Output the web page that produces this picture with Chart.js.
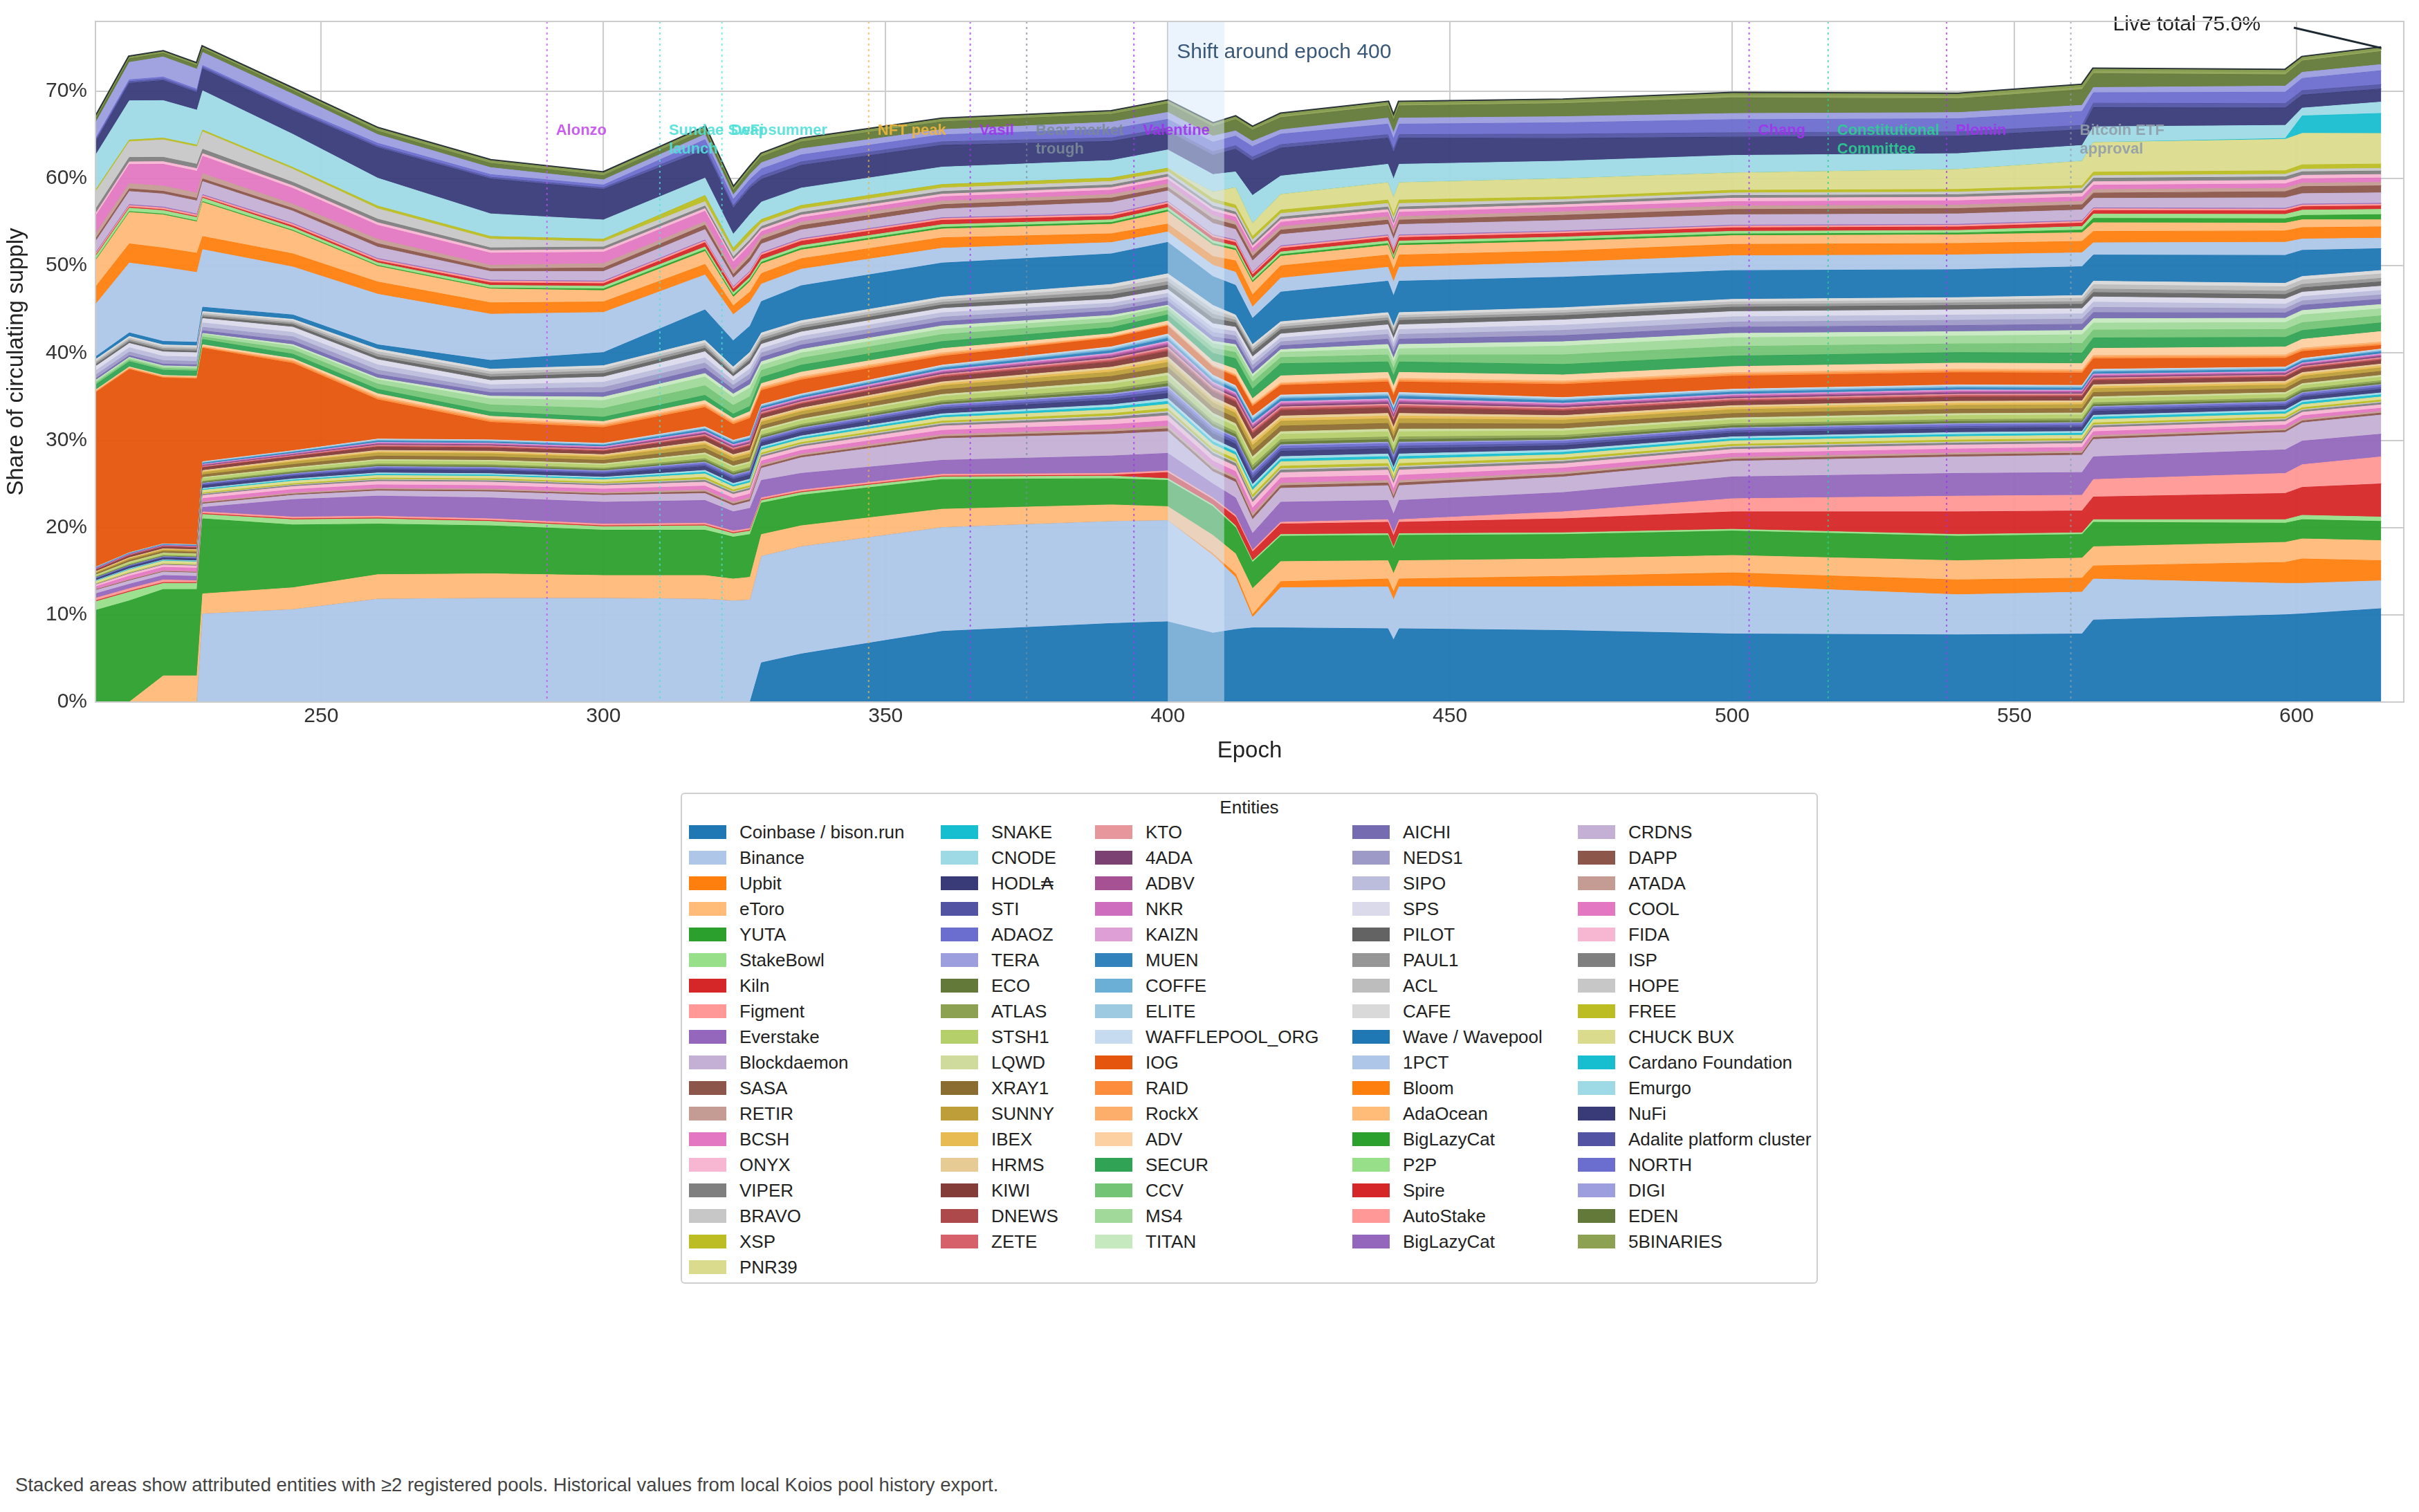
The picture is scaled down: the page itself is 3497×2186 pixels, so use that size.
<!DOCTYPE html>
<html>
<head>
<meta charset="utf-8">
<script src="https://cdn.jsdelivr.net/npm/chart.js@4.4.1/dist/chart.umd.min.js"></script>
<style>
  body { margin: 0; background: #fff; font-family: "Liberation Sans", Arial, sans-serif; }
  #wrap { position: relative; width: 3497px; height: 2186px; }
  #box { position: absolute; left: 0; top: 0; width: 3497px; height: 1110px; }
  #legend { position: absolute; left: 984px; top: 1146px; width: 1644px; height: 710px;
            border: 2px solid #cfcfcf; border-radius: 6px; box-sizing: border-box; }
  #legend .ttl { position: absolute; top: 4px; width: 100%; text-align: center; font-size: 26px; color: #222; }
  #legend .it { position: absolute; font-size: 26px; color: #222; white-space: nowrap; line-height: 30px; }
  #legend .sw { display: inline-block; width: 54px; height: 20px; vertical-align: middle; margin-right: 19px; margin-top: -4px; }
  #note { position: absolute; left: 22px; top: 2131px; font-size: 27.5px; color: #444; }
</style>
</head>
<body>
<div id="wrap">
  <div id="box"><canvas id="chart"></canvas></div>
  <div id="legend"><div class="ttl">Entities</div></div>
  <div id="note">Stacked areas show attributed entities with ≥2 registered pools. Historical values from local Koios pool history export.</div>
</div>
<script>
// epochs (share of circulating supply, %)
const epochs = [210,216,222,228,229,245,260,280,300,318,323,326, 328,335,360,390,400,408,412,415,420,439,440,441, 470,500,540,562,564,598,601,615];

const coinbase = [0,0,0,0,0,0,0,0,0,0,0,0, 4.5,5.5,8.1,9.0,9.2,7.9,8.3,8.5,8.5,8.4,7.1,8.4, 8.2,7.8,7.7,7.8,9.4,10.0,10.1,10.7];
const binance = [0,0,0,0,10.1,10.6,11.8,11.9,11.9,11.8,11.6,11.7, 12.2,12.3,11.9,11.7,11.6,8.9,6.0,1.2,4.6,4.8,4.6,4.8, 5.0,5.5,4.6,4.8,4.7,3.6,3.5,3.2];
const upbit = [0,0,0,0,0,0,0,0,0,0,0,0, 0,0,0,0,0,0.2,0.4,0.3,0.7,0.9,0.9,0.9, 1.2,1.5,1.7,1.6,1.5,2.4,2.8,2.3];
const etoro = [0,0,3.0,3.0,2.3,2.5,2.8,2.8,2.6,2.7,2.5,2.6, 2.5,2.4,2.1,1.9,1.6,2.1,2.3,3.0,2.3,2.1,2.1,2.1, 2.0,2.0,2.2,2.3,2.2,2.3,2.3,2.3];
const yuta = [10.5,11.6,9.9,9.9,8.6,7.2,5.8,5.5,5.2,5.2,4.8,4.9, 3.6,3.5,3.4,3.0,3.0,3.3,3.0,3.0,2.9,2.9,2.8,2.9, 2.8,2.8,2.8,2.7,2.8,2.2,2.2,2.2];
const stakeBowl = [1.0,1.0,0.7,0.7,0.5,0.6,0.6,0.5,0.4,0.5,0.4,0.4, .3,.3,.3,.3,.2,.2,.2,.2,.2,.2,.2,.2, .2,.2,.2,.2,.3,.4,.5,.5];
const kiln = [.1,.1,.1,.1,.1,.1,.1,.1,.1,.1,.1,.1, .1,.1,.1,.1,.7,.6,1.0,1.0,1.2,1.3,1.3,1.3, 1.6,2.0,2.6,2.5,2.6,3.0,3.2,3.8];
const figment = [.3,.3,.3,.2,.2,.2,.2,.2,.2,.2,.2,.2, .2,.2,.2,.2,.2,.2,.2,.2,.2,.3,.3,.3, .8,1.5,1.8,1.8,2.0,2.3,2.6,3.1];
const everstake = [.5,.5,.5,.5,.5,2.0,2.3,2.4,2.5,2.6,2.2,2.3, 2.0,1.9,1.6,2.0,2.0,1.6,2.0,1.9,2.3,2.2,2.2,2.2, 2.2,2.5,2.6,2.6,2.6,2.7,2.7,2.6];
const blockdaemon = [.4,.4,.4,.4,.4,.5,.6,.7,.8,.8,.7,.8, 1.4,1.8,2.5,2.5,2.5,1.4,1.8,1.6,1.6,1.7,1.7,1.7, 1.8,1.8,1.9,2.0,2.0,2.0,2.1,2.2];
const sasa = [.06,.07,.07,.07,.12,.13,.15,.15,.15,.2,.2,.2, .2,.2,.22,.28,.32,.32,.32,.34,.3,.3,.3,.3, .26,.23,.23,.22,.22,.21,.21,.22];
const retir = [.05,.06,.07,.07,.1,.12,.14,.15,.15,.2,.2,.2, .2,.2,.21,.27,.3,.3,.3,.32,.28,.28,.28,.28, .25,.22,.22,.21,.21,.2,.2,.2];
const bcsh = [.3,.4,.4,.4,.4,.4,.4,.4,.4,.45,.45,.45, .42,.42,.5,.55,.6,.6,.6,.65,.6,.6,.6,.6, .5,.45,.45,.45,.45,.42,.4,.35];
const onyx = [.2,.25,.25,.25,.35,.35,.4,.4,.4,.45,.45,.45, .42,.42,.5,.55,.6,.6,.6,.65,.6,.6,.6,.6, .5,.45,.45,.45,.45,.42,.4,.4];
const viper = [.06,.07,.07,.07,.12,.13,.15,.15,.15,.2,.2,.2, .2,.2,.22,.28,.32,.32,.32,.34,.3,.3,.3,.3, .26,.23,.23,.22,.22,.21,.21,.22];
const bravo = [.03,.03,.03,.03,.06,.06,.08,.08,.08,.1,.1,.1, .1,.1,.12,.15,.17,.16,.16,.17,.15,.15,.15,.15, .13,.12,.12,.11,.11,.1,.1,.11];
const xsp = [.06,.07,.07,.07,.12,.13,.15,.15,.15,.25,.2,.2, .2,.2,.22,.28,.32,.32,.32,.34,.3,.3,.3,.3, .26,.23,.23,.22,.22,.21,.21,.22];
const pnr39 = [.25,.3,.3,.3,.3,.3,.3,.3,.3,.4,.35,.35, .35,.35,.4,.45,.5,.5,.5,.55,.5,.5,.5,.5, .4,.4,.4,.4,.4,.35,.35,.35];
const snake = [.05,.06,.06,.06,.1,.12,.14,.14,.14,.2,.2,.2, .2,.2,.22,.28,.32,.32,.32,.34,.3,.3,.3,.3, .26,.23,.23,.22,.26,.25,.25,.25];
const cnode = [.06,.07,.07,.07,.12,.13,.15,.15,.15,.2,.2,.2, .2,.2,.22,.28,.32,.32,.32,.34,.3,.3,.3,.3, .26,.23,.23,.22,.22,.21,.21,.22];
const hodla = [.15,.2,.2,.2,.3,.3,.35,.35,.35,.45,.45,.45, .42,.42,.5,.55,.6,.6,.6,.65,.6,.6,.6,.6, .5,.45,.45,.45,.45,.42,.4,.4];
const sti = [.06,.07,.07,.07,.12,.13,.15,.15,.15,.2,.2,.2, .2,.2,.22,.28,.32,.32,.32,.34,.3,.3,.3,.3, .26,.23,.23,.22,.22,.21,.21,.22];
const adaoz = [.06,.06,.07,.07,.11,.12,.15,.15,.15,.2,.2,.2, .2,.2,.22,.28,.3,.3,.3,.32,.3,.3,.3,.3, .26,.23,.23,.22,.22,.21,.21,.22];
const tera = [.03,.03,.03,.03,.06,.06,.08,.08,.08,.1,.1,.1, .1,.1,.12,.15,.17,.16,.16,.17,.15,.15,.15,.15, .13,.12,.12,.11,.11,.1,.1,.11];
const eco = [.06,.07,.07,.07,.12,.13,.15,.15,.15,.2,.2,.2, .2,.2,.22,.28,.32,.32,.32,.34,.3,.3,.3,.3, .26,.23,.23,.22,.22,.21,.21,.22];
const atlas = [.06,.07,.07,.07,.12,.13,.15,.15,.15,.2,.2,.2, .2,.2,.22,.28,.32,.32,.32,.34,.3,.3,.3,.3, .26,.23,.23,.22,.22,.21,.21,.22];
const stsh1 = [.15,.2,.2,.2,.3,.3,.35,.35,.35,.45,.45,.45, .42,.42,.5,.55,.6,.6,.6,.65,.6,.6,.6,.6, .5,.45,.45,.45,.45,.42,.4,.4];
const lqwd = [.06,.07,.07,.07,.12,.13,.15,.15,.15,.2,.2,.2, .2,.2,.22,.28,.32,.32,.32,.34,.3,.3,.3,.3, .26,.23,.23,.22,.22,.21,.21,.22];
const xray1 = [.15,.2,.2,.2,.3,.35,.4,.4,.4,.5,.5,.5, .45,.45,.55,.6,.65,.65,.65,.7,.65,.65,.65,.65, .55,.5,.5,.5,.5,.45,.45,.45];
const sunny = [.12,.15,.15,.15,.25,.3,.35,.35,.35,.45,.4,.4, .4,.4,.45,.5,.55,.55,.55,.6,.55,.55,.55,.55, .45,.45,.45,.45,.45,.42,.4,.4];
const ibex = [.06,.07,.07,.07,.12,.13,.15,.15,.15,.2,.2,.2, .2,.2,.22,.28,.32,.32,.32,.34,.3,.3,.3,.3, .26,.23,.23,.22,.22,.21,.21,.22];
const hrms = [.06,.07,.07,.07,.12,.13,.15,.15,.15,.2,.2,.2, .2,.2,.22,.28,.32,.32,.32,.34,.3,.3,.3,.3, .26,.23,.23,.22,.22,.21,.21,.22];
const kiwi = [.15,.2,.2,.2,.3,.3,.35,.35,.35,.45,.45,.45, .42,.42,.5,.55,.6,.6,.6,.65,.6,.6,.6,.6, .5,.45,.45,.45,.45,.42,.4,.4];
const dnews = [.03,.03,.03,.03,.06,.06,.08,.08,.08,.1,.1,.1, .1,.1,.12,.15,.17,.16,.16,.17,.15,.15,.15,.15, .13,.12,.12,.11,.11,.1,.1,.11];
const zete = [.03,.03,.03,.03,.06,.06,.08,.08,.08,.1,.1,.1, .1,.1,.12,.15,.17,.16,.16,.17,.15,.15,.15,.15, .13,.12,.12,.11,.11,.1,.1,.11];
const kto = [.03,.03,.03,.03,.06,.06,.08,.08,.08,.1,.1,.1, .1,.1,.12,.15,.17,.16,.16,.17,.15,.15,.15,.15, .13,.12,.12,.11,.11,.1,.1,.11];
const ada4 = [.03,.03,.03,.03,.06,.06,.08,.08,.08,.1,.1,.1, .1,.1,.12,.15,.17,.16,.16,.17,.15,.15,.15,.15, .13,.12,.12,.11,.11,.1,.1,.11];
const adbv = [.03,.03,.03,.03,.06,.06,.08,.08,.08,.1,.1,.1, .1,.1,.12,.15,.17,.16,.16,.17,.15,.15,.15,.15, .13,.12,.12,.11,.11,.1,.1,.11];
const nkr = [.03,.03,.03,.03,.06,.06,.08,.08,.08,.1,.1,.1, .1,.1,.12,.15,.17,.16,.16,.17,.15,.15,.15,.15, .13,.12,.12,.11,.11,.1,.1,.11];
const kaizn = [.03,.03,.03,.03,.06,.06,.08,.08,.08,.1,.1,.1, .1,.1,.12,.15,.17,.16,.16,.17,.15,.15,.15,.15, .13,.12,.12,.11,.11,.1,.1,.11];
const muen = [.06,.07,.07,.07,.12,.13,.15,.15,.15,.2,.2,.2, .2,.2,.22,.28,.32,.32,.32,.34,.3,.3,.3,.3, .26,.23,.23,.22,.22,.21,.21,.22];
const coffe = [.03,.03,.03,.03,.06,.06,.08,.08,.08,.1,.1,.1, .1,.1,.12,.15,.17,.16,.16,.17,.15,.15,.15,.15, .13,.12,.12,.11,.11,.1,.1,.11];
const elite = [.03,.03,.03,.03,.06,.06,.08,.08,.08,.1,.1,.1, .1,.1,.12,.15,.17,.16,.16,.17,.15,.15,.15,.15, .13,.12,.12,.11,.11,.1,.1,.11];
const wafflepool = [.03,.03,.03,.03,.06,.06,.08,.08,.08,.1,.1,.1, .1,.1,.12,.15,.17,.16,.16,.17,.15,.15,.15,.15, .13,.12,.12,.11,.11,.1,.1,.11];
const iog = [20,21,19,19,13,10,4.5,2.0,1.8,2.2,1.8,2.0, 1.6,1.6,1.0,1.0,0.9,0.9,1.0,1.1,1.1,1.2,1.2,1.2, 1.5,1.5,1.4,1.4,1.2,1.0,0.8,0.4];
const raid = [.1,.1,.1,.1,.1,.2,.2,.2,.2,.2,.2,.2, .2,.2,.2,.1,.1,.1,.15,.15,.15,.2,.2,.2, .2,.2,.2,.2,.2,.2,.2,.2];
const rockx = [.1,.1,.1,.1,.1,.15,.2,.2,.2,.2,.2,.2, .2,.2,.2,.1,.1,.1,.15,.15,.15,.2,.2,.2, .2,.2,.2,.2,.2,.2,.2,.2];
const adv = [.1,.1,.1,.1,.2,.2,.3,.3,.3,.4,.3,.4, .4,.5,.5,.3,.4,.5,.6,.6,.8,.7,.7,.7, .7,.7,.7,.7,.8,.9,1.0,1.2];
const secur = [.6,.6,.6,.6,.6,.5,.5,.5,.5,.6,.5,.6, .7,.8,.8,.7,.7,.9,1.2,1.1,1.4,1.2,1.2,1.2, 1.2,1.2,1.2,1.2,1.2,1.1,1.0,1.0];
const ccv = [.2,.2,.2,.2,.3,.5,.6,.8,1.0,1.1,1.0,1.1, .8,.8,.8,.6,.5,.6,.7,.8,.7,.8,.8,.8, 1.1,1.1,1.0,1.1,.9,.9,.9,.8];
const ms4 = [.2,.2,.2,.2,.3,.4,.5,.7,.9,1.0,.9,1.0, .6,.6,.6,.5,.4,.5,.6,.6,.6,.7,.7,.7, 1.0,1.0,.9,1.0,.8,.8,.9,.8];
const titan = [.1,.1,.1,.1,.1,.2,.2,.3,.4,.4,.4,.4, .4,.4,.4,.3,.2,.3,.3,.3,.3,.5,.5,.5, .5,.5,.5,.5,.5,.5,.5,.5];
const aichi = [.2,.2,.2,.2,.3,.4,.4,.4,.5,.6,.5,.6, .5,.5,.5,.5,.45,.5,.5,.5,.45,.6,.6,.6, .7,.7,.7,.7,.7,.6,.6,.6];
const neds1 = [.4,.4,.4,.4,.4,.5,.5,.4,.6,.6,.5,.6, .5,.5,.5,.45,.45,.5,.5,.5,.45,.55,.55,.55, .6,.6,.6,.6,.6,.5,.5,.5];
const sipo = [.5,.5,.5,.5,.5,.5,.6,.5,.6,.6,.5,.6, .5,.5,.5,.45,.45,.5,.5,.5,.45,.55,.55,.55, .6,.6,.6,.6,.6,.5,.5,.5];
const sps = [.5,.5,.5,.5,.5,.6,.6,.5,.6,.7,.5,.6, .5,.5,.5,.45,.45,.5,.5,.5,.45,.55,.55,.55, .6,.6,.6,.6,.6,.6,.5,.5];
const pilot = [.2,.2,.2,.2,.2,.3,.3,.4,.4,.4,.3,.4, .4,.4,.4,.5,.5,.6,.5,.5,.5,.5,.5,.5, .5,.5,.5,.5,.5,.5,.5,.5];
const paul1 = [.2,.2,.2,.2,.2,.2,.3,.3,.3,.3,.2,.3, .3,.3,.3,.4,.4,.5,.3,.3,.3,.3,.3,.3, .3,.3,.3,.3,.4,.4,.4,.4];
const acl = [.2,.2,.2,.2,.2,.2,.3,.3,.3,.3,.3,.3, .3,.3,.3,.4,.45,.5,.3,.3,.3,.3,.3,.3, .3,.3,.3,.4,.5,.5,.5,.5];
const cafe = [.2,.2,.2,.2,.2,.2,.3,.3,.3,.3,.3,.3, .3,.3,.3,.4,.45,.5,.3,.3,.3,.3,.3,.3, .3,.3,.3,.3,.4,.4,.4,.4];
const wave = [.3,.4,.4,.4,.5,.5,.5,1.0,1.5,3.5,3.0,3.0, 3.6,4.0,3.9,3.5,3.6,3.3,3.4,3.0,3.4,3.6,3.5,3.6, 3.5,3.3,3.2,3.3,3.0,3.2,3.0,2.5];
const pct1 = [6.0,8.0,8.5,8.0,6.6,5.5,5.8,5.3,4.6,4.0,3.0,2.8, 2.0,1.9,1.7,1.3,1.2,1.3,1.5,1.3,1.6,1.6,1.6,1.6, 1.7,1.7,1.7,1.6,1.4,1.5,1.3,1.2];
const bloom = [2.0,2.2,2.2,2.2,1.5,1.5,1.4,1.3,1.2,1.2,1.0,1.1, 1.2,1.2,1.2,1.0,.9,1.0,1.3,1.4,1.4,1.4,1.4,1.4, 1.3,1.3,1.3,1.3,1.3,1.3,1.3,1.3];
const adaOcean = [3.0,3.6,3.8,3.6,3.9,2.6,1.8,1.6,1.3,1.5,1.0,1.2, 1.1,1.0,1.0,1.1,1.4,1.3,1.2,1.4,1.1,1.1,1.1,1.1, 1.1,1.0,1.0,1.0,1.0,.9,.9,.8];
const bigLazyCat = [.1,.1,.1,.1,.1,.1,.1,.1,.2,.2,.2,.2, .2,.2,.2,.2,.2,.2,.2,.2,.2,.2,.2,.2, .2,.2,.2,.3,.5,.5,.5,.6];
const p2p = [.4,.4,.4,.4,.4,.3,.3,.3,.3,.3,.3,.3, .3,.3,.3,.3,.3,.3,.3,.3,.3,.3,.3,.3, .3,.3,.3,.4,.5,.5,.6,.6];
const spire = [.1,.1,.1,.1,.1,.2,.2,.3,.3,.5,.4,.4, .5,.5,.5,.4,.4,.4,.4,.4,.4,.4,.4,.4, .4,.4,.4,.4,.4,.4,.4,.4];
const autoStake = [.2,.2,.2,.2,.2,.2,.2,.2,.2,.2,.2,.2, .2,.2,.2,.2,.2,.2,.2,.2,.2,.2,.2,.2, .2,.2,.2,.2,.2,.2,.2,.2];
const bigLazyCat2 = [.1,.1,.1,.1,.1,.1,.1,.1,.1,.1,.1,.1, .1,.1,.1,.1,.1,.1,.1,.1,.1,.1,.1,.1, .1,.1,.1,.1,.1,.1,.1,.1];
const crdns = [1.3,1.5,1.5,1.5,1.5,1.4,1.3,1.0,1.1,1.2,1.0,1.1, 1.0,1.0,1.0,1.3,1.2,1.3,1.2,1.3,1.3,1.2,1.2,1.2, 1.2,1.2,1.2,1.2,1.1,1.2,1.2,1.2];
const dapp = [.3,.3,.3,.3,.3,.3,.4,.3,.4,.5,.4,.5, .5,.5,.5,.5,.4,.5,.5,.5,.5,.5,.5,.5, .6,.6,.6,.6,.6,.7,.8,.8];
const atada = [.6,.6,.6,.6,.6,.5,.5,.4,.5,.4,.4,.4, .4,.4,.4,.4,.4,.4,.4,.4,.4,.4,.4,.4, .4,.4,.4,.4,.4,.4,.4,.4];
const cool = [2.0,2.2,2.5,2.5,2.0,1.8,1.6,1.4,1.3,1.2,1.0,1.0, .5,.5,.5,.5,.5,.5,.5,.5,.5,.5,.5,.5, .5,.5,.5,.5,.5,.5,.5,.5];
const fida = [.3,.3,.3,.3,.3,.3,.3,.3,.3,.3,.3,.3, .3,.3,.3,.3,.3,.3,.3,.3,.3,.3,.3,.3, .3,.4,.4,.4,.4,.4,.4,.4];
const isp = [.5,.5,.5,.5,.5,.4,.4,.3,.3,.3,.3,.3, .3,.3,.3,.3,.3,.3,.3,.3,.3,.3,.3,.3, .3,.3,.3,.3,.4,.4,.4,.4];
const hope = [2.0,1.8,2.0,2.0,2.0,1.5,1.2,1.0,.6,.5,.5,.5, .4,.4,.4,.4,.3,.4,.4,.4,.4,.4,.4,.4, .3,.3,.3,.3,.3,.3,.3,.3];
const free = [.2,.2,.2,.2,.2,.2,.3,.3,.3,.7,.5,.6, .4,.4,.4,.4,.4,.4,.4,.4,.4,.4,.4,.4, .3,.3,.3,.3,.4,.4,.5,.5];
const chuckBux = [0,0,0,0,0,0,0,0,0,0,0,0, 0,0,0,0,0,.8,2.0,1.5,1.8,2.0,2.0,2.0, 2.1,2.0,2.3,2.8,3.4,3.6,3.6,3.5];
const cardanoFoundation = [0,0,0,0,0,0,0,0,0,0,0,0, 0,0,0,0,0,0,0,0,0,0,0,0, 0,0,0,0,0,.1,2.0,2.3];
const emurgo = [4.0,4.5,4.3,4.0,4.5,3.8,3.2,2.6,2.2,2.0,1.6,1.8, 2.0,2.0,2.0,2.0,2.1,2.0,1.8,3.2,2.1,2.1,2.1,2.1, 2.0,2.0,1.8,1.8,1.8,1.5,0.9,1.3];
const nufi = [1.5,2.0,2.3,2.0,2.5,2.7,3.5,4.0,3.5,3.2,3.0,3.0, 2.6,2.6,2.5,2.2,2.1,2.2,2.6,4.0,3.2,3.0,3.0,3.0, 2.6,2.1,2.0,1.8,2.2,2.0,1.5,1.5];
const adalite = [.2,.2,.2,.2,.2,.2,.2,.2,.2,.4,.3,.3, .4,.4,.4,.4,.4,.4,.4,.4,.4,.4,.4,.4, .5,.5,.5,.5,.5,.5,.5,.5];
const north = [.2,.2,.2,.2,.2,.2,.3,.3,.3,.8,.7,.7, .8,.8,.8,1.0,1.0,1.1,1.1,1.2,1.2,1.2,1.2,1.2, 1.3,1.5,1.5,1.6,1.2,1.3,1.4,1.6];
const digi = [1.8,2.0,2.3,2.3,1.5,1.5,1.0,.8,.6,.6,.5,.6, .7,.7,.6,.8,.8,.7,.6,.6,.5,.7,.7,.7, .7,.7,.7,.7,.6,.7,.7,.7];
const eden = [.4,.4,.4,.4,.4,.4,.4,.5,.5,.5,.5,.5, .7,.8,.9,.9,1.0,1.1,1.3,1.3,1.4,1.4,1.4,1.4, 1.5,1.8,1.6,1.8,1.6,1.3,1.3,1.5];
const binaries5 = [.2,.2,.2,.2,.2,.2,.3,.3,.3,.3,.3,.3, .3,.3,.3,.3,.3,.3,.3,.3,.4,.4,.4,.4, .4,.5,.5,.5,.5,.5,.4,.4];

// stacking order, bottom to top (legend order)
const entities = [
  ['Coinbase / bison.run', coinbase], ['Binance', binance], ['Upbit', upbit], ['eToro', etoro],
  ['YUTA', yuta], ['StakeBowl', stakeBowl], ['Kiln', kiln], ['Figment', figment],
  ['Everstake', everstake], ['Blockdaemon', blockdaemon], ['SASA', sasa], ['RETIR', retir],
  ['BCSH', bcsh], ['ONYX', onyx], ['VIPER', viper], ['BRAVO', bravo], ['XSP', xsp], ['PNR39', pnr39],
  ['SNAKE', snake], ['CNODE', cnode], ['HODL₳', hodla], ['STI', sti], ['ADAOZ', adaoz], ['TERA', tera],
  ['ECO', eco], ['ATLAS', atlas], ['STSH1', stsh1], ['LQWD', lqwd], ['XRAY1', xray1], ['SUNNY', sunny],
  ['IBEX', ibex], ['HRMS', hrms], ['KIWI', kiwi], ['DNEWS', dnews], ['ZETE', zete],
  ['KTO', kto], ['4ADA', ada4], ['ADBV', adbv], ['NKR', nkr], ['KAIZN', kaizn], ['MUEN', muen],
  ['COFFE', coffe], ['ELITE', elite], ['WAFFLEPOOL_ORG', wafflepool], ['IOG', iog], ['RAID', raid],
  ['RockX', rockx], ['ADV', adv], ['SECUR', secur], ['CCV', ccv], ['MS4', ms4], ['TITAN', titan],
  ['AICHI', aichi], ['NEDS1', neds1], ['SIPO', sipo], ['SPS', sps], ['PILOT', pilot], ['PAUL1', paul1],
  ['ACL', acl], ['CAFE', cafe], ['Wave / Wavepool', wave], ['1PCT', pct1], ['Bloom', bloom],
  ['AdaOcean', adaOcean], ['BigLazyCat', bigLazyCat], ['P2P', p2p], ['Spire', spire],
  ['AutoStake', autoStake], ['BigLazyCat', bigLazyCat2],
  ['CRDNS', crdns], ['DAPP', dapp], ['ATADA', atada], ['COOL', cool], ['FIDA', fida], ['ISP', isp],
  ['HOPE', hope], ['FREE', free], ['CHUCK BUX', chuckBux], ['Cardano Foundation', cardanoFoundation],
  ['Emurgo', emurgo], ['NuFi', nufi], ['Adalite platform cluster', adalite], ['NORTH', north],
  ['DIGI', digi], ['EDEN', eden], ['5BINARIES', binaries5]
];
const legendColumns = [18, 17, 17, 17, 17];

const events = [
  [290, 'Alonzo', '#c44cf0'], [310, 'Sundae Swap|launch', '#4fe0d8'], [321, 'DeFi summer', '#4fe0d8'],
  [347, 'NFT peak', '#f0b43c'], [365, 'Vasil', '#a332ee'], [375, 'Bear market|trough', '#7a8a99'],
  [394, 'Valentine', '#a332ee'], [503, 'Chang', '#a332ee'], [517, 'Constitutional|Committee', '#2ccf92'],
  [538, 'Plomin', '#a332ee'], [560, 'Bitcoin ETF|approval', '#909da8']
];

// colours: tab20, tab20b, tab20c cycled
const palette = [
  '#1f77b4','#aec7e8','#ff7f0e','#ffbb78','#2ca02c','#98df8a','#d62728','#ff9896','#9467bd','#c5b0d5',
  '#8c564b','#c49c94','#e377c2','#f7b6d2','#7f7f7f','#c7c7c7','#bcbd22','#dbdb8d','#17becf','#9edae5',
  '#393b79','#5254a3','#6b6ecf','#9c9ede','#637939','#8ca252','#b5cf6b','#cedb9c','#8c6d31','#bd9e39',
  '#e7ba52','#e7cb94','#843c39','#ad494a','#d6616b','#e7969c','#7b4173','#a55194','#ce6dbd','#de9ed6',
  '#3182bd','#6baed6','#9ecae1','#c6dbef','#e6550d','#fd8d3c','#fdae6b','#fdd0a2','#31a354','#74c476',
  '#a1d99b','#c7e9c0','#756bb1','#9e9ac8','#bcbddc','#dadaeb','#636363','#969696','#bdbdbd','#d9d9d9'
];

const datasets = entities.map(([name, vals], i) => ({
  label: name,
  data: vals.map((v, k) => ({ x: epochs[k], y: v })),
  backgroundColor: palette[i % palette.length] + 'f2',
  borderColor: palette[i % palette.length],
  borderWidth: 1,
  pointRadius: 0,
  fill: i === 0 ? 'origin' : '-1',
  stack: 'a'
}));
const totals = epochs.map((e, k) => entities.reduce((s, en) => s + en[1][k], 0));
datasets.push({
  label: 'total', data: totals.map((v, k) => ({ x: epochs[k], y: v })),
  borderColor: '#2a3439', borderWidth: 5, pointRadius: 0, fill: false, stack: 'total'
});

const overlay = {
  id: 'overlay',
  afterDatasetsDraw(chart) {
    const { ctx, chartArea: a, scales: { x, y } } = chart;
    ctx.save();
    // shaded band
    const b0 = x.getPixelForValue(400), b1 = x.getPixelForValue(410);
    ctx.fillStyle = 'rgba(215,232,250,0.5)';
    ctx.fillRect(b0, a.top, b1 - b0, a.bottom - a.top);
    ctx.fillStyle = '#3a5878';
    ctx.font = '30px "Liberation Sans", Arial';
    ctx.textBaseline = 'middle';
    ctx.fillText('Shift around epoch 400', b0 + 13, 76);
    // events
    events.forEach(([ep, txt, col]) => {
      const px = x.getPixelForValue(ep);
      ctx.strokeStyle = col; ctx.globalAlpha = 0.75; ctx.lineWidth = 2;
      ctx.setLineDash([3, 5]);
      ctx.beginPath(); ctx.moveTo(px, a.top); ctx.lineTo(px, a.bottom); ctx.stroke();
      ctx.setLineDash([]);
      ctx.globalAlpha = 0.9;
      ctx.fillStyle = col;
      ctx.font = 'bold 22px "Liberation Sans", Arial';
      txt.split('|').forEach((t, j) => ctx.fillText(t, px + 13, y.getPixelForValue(65.5) + j * 27));
      ctx.globalAlpha = 1;
    });
    // live total
    const lx = x.getPixelForValue(epochs[epochs.length - 1]);
    const ly = y.getPixelForValue(totals[totals.length - 1]);
    ctx.strokeStyle = '#1e2a33'; ctx.lineWidth = 3;
    ctx.beginPath(); ctx.moveTo(3316, 40); ctx.lineTo(lx, ly); ctx.stroke();
    ctx.fillStyle = '#222'; ctx.font = '30px "Liberation Sans", Arial';
    ctx.textAlign = 'right';
    ctx.fillText('Live total ' + totals[totals.length - 1].toFixed(1) + '%', 3268, 36);
    // frame
    ctx.strokeStyle = '#cccccc'; ctx.lineWidth = 2;
    ctx.strokeRect(a.left, a.top, a.right - a.left, a.bottom - a.top);
    ctx.restore();
  }
};

const canvas = document.getElementById('chart');
canvas.width = 3497; canvas.height = 1110;
new Chart(canvas.getContext('2d'), {
  type: 'line',
  data: { datasets },
  options: {
    responsive: false, animation: false, devicePixelRatio: 1,
    layout: { padding: { top: 31, right: 22, left: 0, bottom: 0 } },
    plugins: { legend: { display: false }, tooltip: { enabled: false } },
    elements: { line: { tension: 0 } },
    scales: {
      x: {
        type: 'linear', min: 210, max: 619,
        afterFit: s => { s.height = 95; },
        afterBuildTicks: s => { s.ticks = [250,300,350,400,450,500,550,600].map(v => ({ value: v })); },
        ticks: { font: { size: 30, family: 'Liberation Sans' }, color: '#333' },
        grid: { color: '#cccccc', lineWidth: 2, drawTicks: false },
        border: { display: false },
        title: { display: true, text: 'Epoch', font: { size: 33, family: 'Liberation Sans' }, color: '#222', padding: { top: 8 } }
      },
      y: {
        stacked: true, min: 0, max: 78,
        afterFit: s => { s.width = 138; },
        afterBuildTicks: s => { s.ticks = [0,10,20,30,40,50,60,70].map(v => ({ value: v })); },
        ticks: { font: { size: 30, family: 'Liberation Sans' }, color: '#333', padding: 12,
                 callback: v => v + '%' },
        grid: { color: '#cccccc', lineWidth: 2, drawTicks: false },
        border: { display: false },
        title: { display: true, text: 'Share of circulating supply', font: { size: 33, family: 'Liberation Sans' }, color: '#222' }
      }
    }
  },
  plugins: [overlay]
});

// legend in five columns
const leg = document.getElementById('legend');
const colX = [10, 374, 597, 969, 1295];
let idx = 0;
legendColumns.forEach((n, c) => {
  for (let r = 0; r < n; r++, idx++) {
    const d = document.createElement('div');
    d.className = 'it';
    d.style.left = colX[c] + 'px';
    d.style.top = (40 + r * 37) + 'px';
    d.innerHTML = '<span class="sw" style="background:' + palette[idx % palette.length] + '"></span>' + entities[idx][0];
    leg.appendChild(d);
  }
});
</script>
</body>
</html>
